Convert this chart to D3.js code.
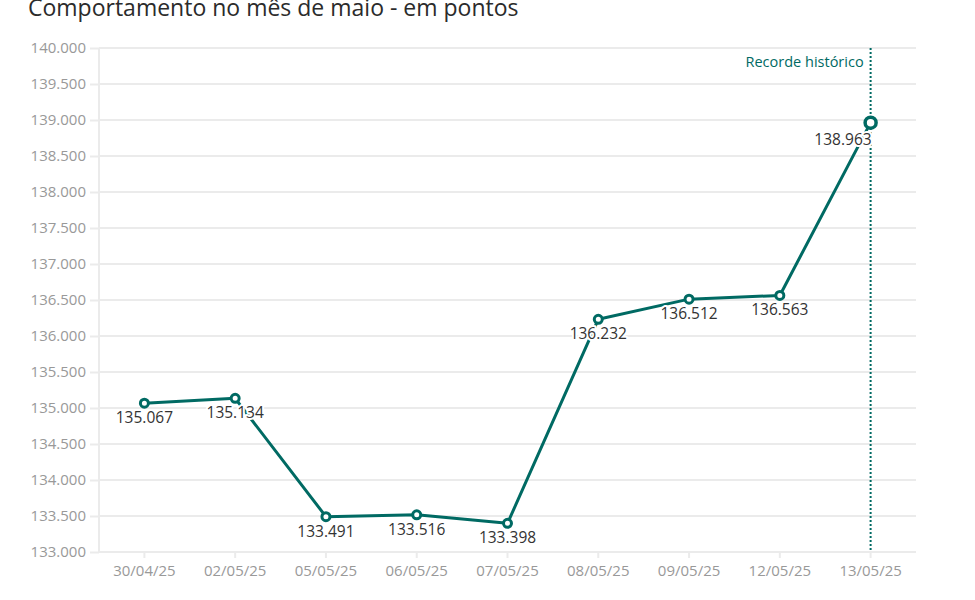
<!DOCTYPE html>
<html>
<head>
<meta charset="utf-8">
<script src="https://cdn.jsdelivr.net/npm/d3@7"></script>
<style>
  body { margin: 0; background: #fff; }
  svg text { font-family: "Open Sans", "OpenSans", "Noto Sans", sans-serif; }
  .grid line { stroke: #ebebeb; stroke-width: 2; }
  .axis text { fill: #999; font-size: 15px; }
  .axis line, .axis path { stroke: #ebebeb; stroke-width: 2; }
</style>
</head>
<body>
<svg id="chart" width="975" height="600"></svg>
<script>
const dates = ['30/04/25', '02/05/25', '05/05/25', '06/05/25', '07/05/25', '08/05/25', '09/05/25', '12/05/25', '13/05/25']
const points = [135067, 135134, 133491, 133516, 133398, 136232, 136512, 136563, 138963]
const yTicks = [133000, 133500, 134000, 134500, 135000, 135500, 136000, 136500, 137000, 137500, 138000, 138500, 139000, 139500, 140000]
const titleText = 'Comportamento no mês de maio - em pontos'
const recordText = 'Recorde histórico'

const teal = '#006a63'
const margin = { top: 48, right: 59, bottom: 48, left: 99 }
const width = 975, height = 600

const ptBR = d3.formatLocale({ decimal: ',', thousands: '.', grouping: [3], currency: ['R$', ''] })
const fmt = ptBR.format(',.0f')

const svg = d3.select('#chart')

const x = d3.scaleBand()
  .domain(dates)
  .range([margin.left, width - margin.right])

const y = d3.scaleLinear()
  .domain([133000, 140000])
  .range([height - margin.bottom, margin.top])

svg.append('text')
  .attr('x', 28)
  .attr('y', 16)
  .attr('fill', '#2b2b2b')
  .style('font-size', '23px')
  .text(titleText)

// horizontal grid
svg.append('g')
  .attr('class', 'grid')
  .selectAll('line')
  .data(yTicks)
  .join('line')
  .attr('x1', margin.left)
  .attr('x2', width - margin.right)
  .attr('y1', d => y(d))
  .attr('y2', d => y(d))

// y axis
svg.append('g')
  .attr('class', 'axis')
  .attr('transform', `translate(${margin.left},0)`)
  .call(d3.axisLeft(y).tickValues(yTicks).tickFormat(fmt).tickSize(9).tickPadding(4))
  .call(g => g.select('.domain').attr('d', `M0,${margin.top}V${height - margin.bottom}`))

// x axis
svg.append('g')
  .attr('class', 'axis')
  .attr('transform', `translate(0,${height - margin.bottom})`)
  .call(d3.axisBottom(x).tickSize(6).tickPadding(5))
  .call(g => g.select('.domain').remove())
  .call(g => g.selectAll('text').attr('dy', '0.85em'))

const cx = d => x(d) + x.bandwidth() / 2
const last = dates.length - 1

// record line
svg.append('line')
  .attr('x1', cx(dates[last]))
  .attr('x2', cx(dates[last]))
  .attr('y1', margin.top)
  .attr('y2', height - margin.bottom)
  .attr('stroke', teal)
  .attr('stroke-width', 2)
  .attr('stroke-dasharray', '2,2')

svg.append('text')
  .attr('x', cx(dates[last]) - 7)
  .attr('y', 67)
  .attr('text-anchor', 'end')
  .attr('fill', teal)
  .style('font-size', '14.5px')
  .text(recordText)

const data = dates.map((d, i) => ({ date: d, value: points[i], i }))

svg.append('path')
  .datum(data)
  .attr('fill', 'none')
  .attr('stroke', teal)
  .attr('stroke-width', 3)
  .attr('stroke-linejoin', 'round')
  .attr('d', d3.line().x(d => cx(d.date)).y(d => y(d.value)))

// labels with white halo
svg.append('g')
  .selectAll('text')
  .data(data)
  .join('text')
  .attr('x', d => cx(d.date) + (d.i === last ? 1 : 0))
  .attr('y', d => y(d.value) + (d.i === last ? 22 : 20))
  .attr('text-anchor', d => d.i === last ? 'end' : 'middle')
  .attr('fill', '#333')
  .attr('stroke', '#fff')
  .attr('stroke-width', 4)
  .attr('stroke-linejoin', 'round')
  .attr('paint-order', 'stroke')
  .style('font-size', '15.5px')
  .text(d => fmt(d.value))

svg.append('g')
  .selectAll('circle')
  .data(data)
  .join('circle')
  .attr('cx', d => cx(d.date))
  .attr('cy', d => y(d.value))
  .attr('r', d => d.i === last ? 5.5 : 4)
  .attr('fill', '#fff')
  .attr('stroke', teal)
  .attr('stroke-width', d => d.i === last ? 3.5 : 3)
</script>
</body>
</html>
